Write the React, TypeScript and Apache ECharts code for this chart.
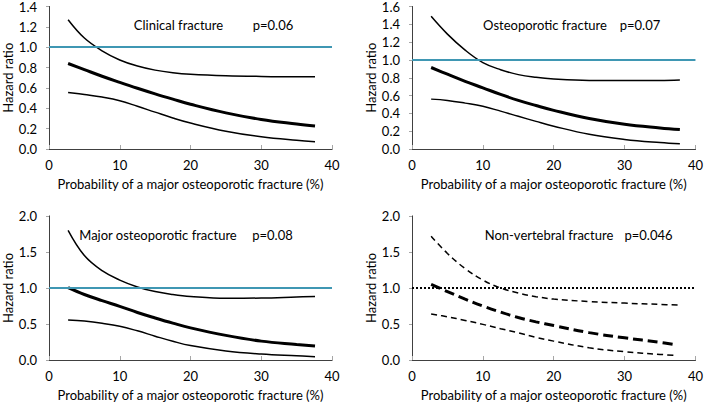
import React, { useEffect, useRef } from "react";
import * as echarts from "echarts";

const xPts = [2.7, 5, 7.5, 10, 12.5, 15, 17.5, 20, 25, 30, 35, 37.6];
const xPtsB = [2.7, 5, 7.5, 10, 12.5, 15, 17.5, 20, 25, 30, 35, 37.8];
const xPtsD = [2.7, 5, 7.5, 10, 12.5, 15, 17.5, 20, 25, 30, 35, 37.7];
const xPtsD2 = [2.7, 5, 7.5, 10, 12.5, 15, 17.5, 20, 25, 30, 35, 37];

const clinUpper = [1.27, 1.09, 0.965, 0.875, 0.815, 0.775, 0.75, 0.735, 0.72, 0.713, 0.71, 0.71];
const clinHR = [0.84, 0.78, 0.715, 0.655, 0.597, 0.542, 0.49, 0.44, 0.355, 0.29, 0.245, 0.225];
const clinLower = [0.556, 0.535, 0.51, 0.475, 0.42, 0.362, 0.305, 0.255, 0.175, 0.12, 0.085, 0.072];

const osteoUpper = [1.49, 1.29, 1.11, 0.97, 0.89, 0.835, 0.805, 0.787, 0.77, 0.768, 0.77, 0.775];
const osteoHR = [0.915, 0.84, 0.76, 0.687, 0.613, 0.546, 0.488, 0.434, 0.343, 0.278, 0.237, 0.219];
const osteoLower = [0.56, 0.545, 0.515, 0.479, 0.425, 0.367, 0.31, 0.256, 0.165, 0.108, 0.072, 0.058];

const majorUpper = [1.8, 1.45, 1.24, 1.11, 1.015, 0.95, 0.91, 0.883, 0.858, 0.86, 0.875, 0.883];
const majorHR = [1.005, 0.91, 0.825, 0.745, 0.66, 0.584, 0.512, 0.446, 0.342, 0.262, 0.215, 0.193];
const majorLower = [0.556, 0.54, 0.51, 0.469, 0.405, 0.331, 0.26, 0.2, 0.125, 0.083, 0.058, 0.046];

const nvUpper = [1.72, 1.48, 1.27, 1.11, 1.0, 0.93, 0.88, 0.846, 0.812, 0.79, 0.772, 0.763];
const nvHR = [1.05, 0.95, 0.845, 0.75, 0.665, 0.59, 0.53, 0.478, 0.38, 0.308, 0.245, 0.216];
const nvLower = [0.64, 0.6, 0.55, 0.495, 0.435, 0.377, 0.315, 0.262, 0.17, 0.115, 0.078, 0.064];

const panelTitles = ["Clinical fracture", "Osteoporotic fracture", "Major osteoporotic fracture", "Non-vertebral fracture"];
const pValues = ["p=0.06", "p=0.07", "p=0.08", "p=0.046"];
const yMaxes = [1.4, 1.6, 2.0, 2.0];
const yIntervals = [0.2, 0.2, 0.5, 0.5];
const xMax = 40;
const xInterval = 10;
const refValue = 1.0;
const xAxisTitle = "Probability of a major osteoporotic fracture (%)";
const yAxisTitle = "Hazard ratio";

const FONT = "Lato, 'Open Sans', sans-serif";
const FS = 13;

const pair = (xs: number[], ys: number[]) => xs.map((x, i) => [x, ys[i]]);

export default function App() {
  const ref = useRef<HTMLDivElement>(null);
  useEffect(() => {
    if (!ref.current) return;
    const chart = echarts.init(ref.current, undefined, { renderer: "svg" });
    const grids = [
      { left: 45, top: 5, width: 287, height: 144 },
      { left: 412, top: 5, width: 287, height: 144 },
      { left: 45, top: 216, width: 287, height: 144 },
      { left: 412, top: 216, width: 287, height: 144 },
    ];
    const titlePos = [
      { t: [178.5, 25], p: [273, 25] },
      { t: [545, 25], p: [640, 25] },
      { t: [158, 235], p: [272.5, 235] },
      { t: [549, 235], p: [648.5, 235] },
    ];
    const xAxes: any[] = [];
    const yAxes: any[] = [];
    grids.forEach((g, i) => {
      xAxes.push({
        gridIndex: i,
        type: "value",
        min: 0,
        max: xMax,
        interval: xInterval,
        name: xAxisTitle,
        nameLocation: "middle",
        nameGap: 28,
        nameTextStyle: { fontFamily: FONT, fontSize: FS, color: "#000" },
        axisLine: { show: true, lineStyle: { color: "#a6a6a6", width: 1 } },
        axisTick: { show: true, inside: true, length: 4, lineStyle: { color: "#a6a6a6" } },
        axisLabel: { fontFamily: FONT, fontSize: FS, color: "#000", margin: 9 },
        splitLine: { show: false },
      });
      xAxes.push({
        gridIndex: i,
        type: "value",
        position: "top",
        min: 0,
        max: xMax,
        axisLine: { show: true, lineStyle: { color: "#404040", width: 1 } },
        axisTick: { show: false },
        axisLabel: { show: false },
        splitLine: { show: false },
      });
      yAxes.push({
        gridIndex: i,
        type: "value",
        min: 0,
        max: yMaxes[i],
        interval: yIntervals[i],
        name: yAxisTitle,
        nameLocation: "middle",
        nameGap: 35,
        nameRotate: 90,
        nameTextStyle: { fontFamily: FONT, fontSize: FS, color: "#000" },
        axisLine: { show: true, lineStyle: { color: "#a6a6a6", width: 1 } },
        axisTick: { show: true, inside: false, length: 3, lineStyle: { color: "#a6a6a6" } },
        axisLabel: { fontFamily: FONT, fontSize: FS, color: "#000", margin: 12, formatter: (v: number) => v.toFixed(1) },
        splitLine: { show: false },
      });
      yAxes.push({
        gridIndex: i,
        type: "value",
        position: "right",
        min: 0,
        max: yMaxes[i],
        axisLine: { show: true, lineStyle: { color: "#404040", width: 1 } },
        axisTick: { show: false },
        axisLabel: { show: false },
        splitLine: { show: false },
      });
    });

    const sets = [
      { xs: xPts, u: clinUpper, m: clinHR, l: clinLower },
      { xs: xPtsB, u: osteoUpper, m: osteoHR, l: osteoLower },
      { xs: xPts, u: majorUpper, m: majorHR, l: majorLower },
      { xs: xPtsD, u: nvUpper, m: nvHR, l: nvLower, xs2: xPtsD2 },
    ];
    const series: any[] = [];
    sets.forEach((s: any, i) => {
      const dashed = i === 3;
      const base = {
        type: "line",
        xAxisIndex: i * 2,
        yAxisIndex: i * 2,
        smooth: 0.4,
        showSymbol: false,
        symbol: "none",
        silent: true,
      };
      series.push({
        ...base,
        data: pair(s.xs, s.u),
        lineStyle: { color: "#000", width: 1.5, type: dashed ? [6, 4] : "solid" },
        markLine: {
          silent: true,
          symbol: "none",
          label: { show: false },
          lineStyle: dashed
            ? { color: "#000", width: 2, type: [2, 2] }
            : { color: "#3f97b3", width: 2, type: "solid" },
          data: [{ yAxis: refValue }],
        },
      });
      series.push({
        ...base,
        data: pair(s.xs2 || s.xs, s.m),
        lineStyle: { color: "#000", width: 3, type: dashed ? [10, 5] : "solid" },
      });
      series.push({
        ...base,
        data: pair(s.xs2 || s.xs, s.l),
        lineStyle: { color: "#000", width: 1.5, type: dashed ? [6, 4] : "solid" },
      });
    });

    const graphic: any[] = [];
    titlePos.forEach((tp, i) => {
      graphic.push({
        type: "text",
        x: tp.t[0],
        y: tp.t[1],
        style: { text: panelTitles[i], fontFamily: FONT, fontSize: FS, fill: "#000", verticalAlign: "middle", align: "center" },
      });
      graphic.push({
        type: "text",
        x: tp.p[0],
        y: tp.p[1],
        style: { text: pValues[i], fontFamily: FONT, fontSize: FS, fill: "#000", verticalAlign: "middle", align: "center" },
      });
    });

    chart.setOption({
      animation: false,
      backgroundColor: "#fff",
      grid: grids,
      xAxis: xAxes,
      yAxis: yAxes,
      series,
      graphic,
    });
    return () => chart.dispose();
  }, []);
  return <div ref={ref} style={{ width: 706, height: 403, position: "absolute", left: 0, top: 0 }} />;
}
